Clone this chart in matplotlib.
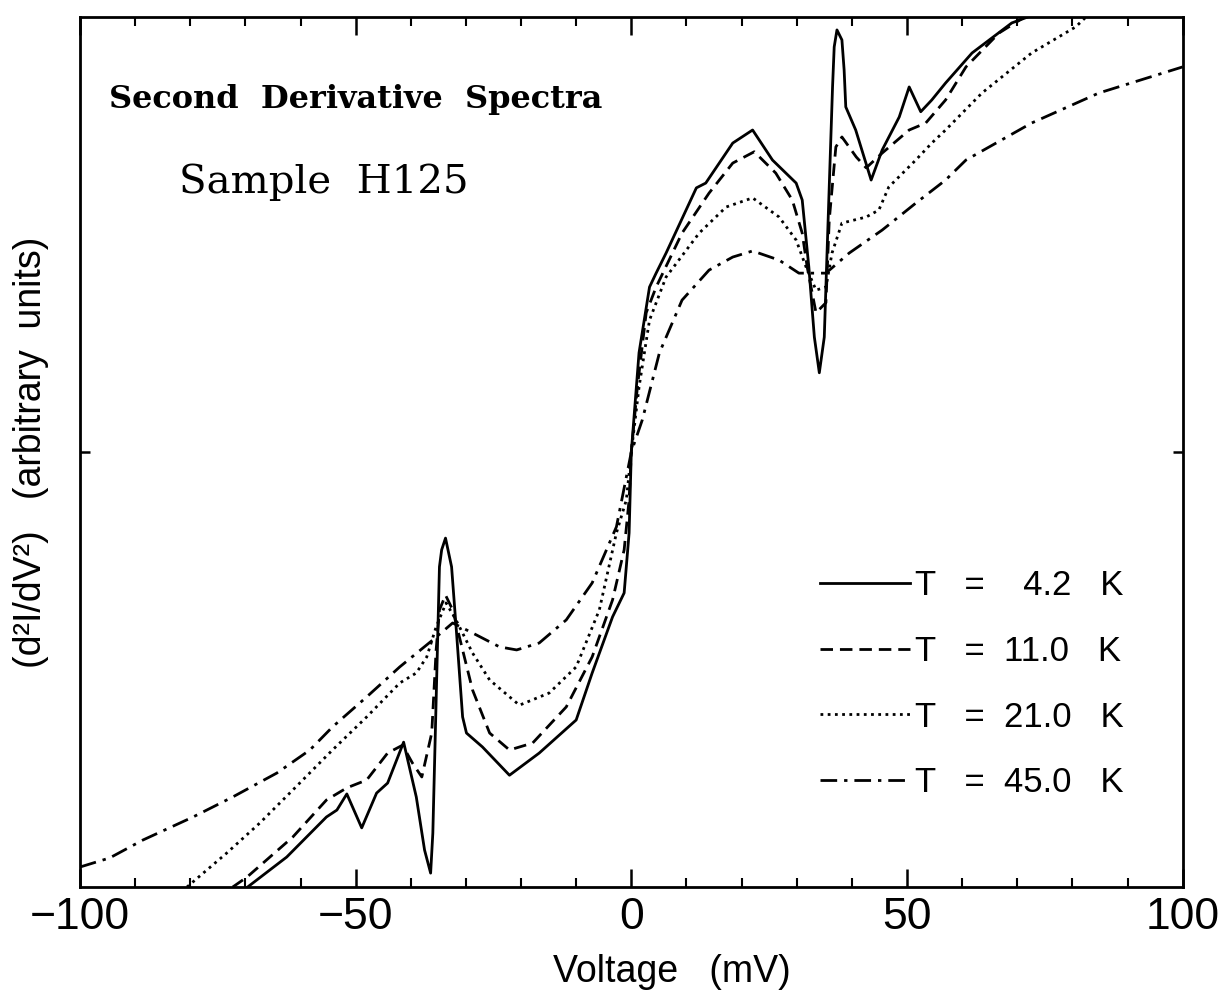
import numpy as np
import matplotlib
matplotlib.use('Agg')
import matplotlib.pyplot as plt
from matplotlib.ticker import MultipleLocator

# ---------------- data ----------------
# voltage in mV, signal in arbitrary units (-100 .. 100)
v_42 = [-69.6, -62.5, -55.3, -53.4, -51.6, -48.9, -46.2, -44.2, -41.3, -39.0,
        -37.5, -36.4, -36.0, -35.4, -34.8, -34.4, -33.7, -32.6, -31.7, -30.6,
        -29.9, -27.0, -22.1, -16.7, -10.0, -7.1, -3.4, -1.3,
        -0.4, 0.0, 1.4, 3.3, 4.5, 6.3, 11.8, 13.5, 18.4, 22.0,
        25.6, 29.9, 31.0, 32.2, 33.2, 34.1, 35.0, 35.5, 36.5, 36.8, 37.3, 38.2,
        38.6, 38.9, 40.7,
        43.5, 45.5, 48.6, 50.4, 52.5, 54.5, 57.0, 61.8, 69.0, 73.0]
s_42 = [-100.0, -93.1, -83.9, -82.3, -78.6, -86.4, -78.4, -76.1, -66.7, -79.3,
        -91.5, -96.8, -87.6, -57.0, -26.4, -22.5, -19.8, -26.4, -41.6, -60.9,
        -64.6, -67.8, -74.3, -69.2, -61.6, -50.8, -37.9, -32.4,
        -18.6, 0.0, 22.8, 37.9, 41.1, 45.7, 60.7, 61.8, 71.0, 74.0,
        67.1, 61.8, 57.9, 42.5, 26.4, 18.2, 26.4, 45.7, 83.9, 93.1, 97.0, 94.7,
        87.8, 79.3, 74.0,
        62.5, 69.4, 77.0, 83.9, 78.2, 80.9, 84.8, 91.7, 98.6, 100.5]

v_11 = [-72.3, -69.7, -61.4, -55.3, -51.6, -48.0, -44.2, -41.5, -39.7, -38.0,
        -36.2, -35.4, -34.8, -33.7, -32.4, -30.6, -28.8, -25.7, -22.1, -17.9,
        -11.8, -7.1, -3.4, -1.3, -0.4, 0.0, 1.1, 2.7, 4.5, 9.2,
        14.1, 18.4, 22.3, 26.2, 29.2, 31.0, 31.9, 33.5, 35.3, 35.9,
        37.1, 38.2, 40.8, 42.6, 45.5, 50.4, 53.4, 57.0, 60.7, 66.7, 72.0]
s_11 = [-100.0, -97.7, -88.5, -80.0, -77.2, -75.4, -69.2, -67.4, -71.5, -74.7,
        -64.6, -45.5, -36.3, -32.9, -36.3, -45.5, -54.7, -64.6, -68.5, -66.9,
        -58.6, -47.1, -34.0, -22.5, -11.0, 0.0, 14.9, 32.0, 37.9, 50.3,
        59.5, 66.4, 69.0, 64.1, 57.9, 50.3, 42.5, 32.0, 34.3, 53.3,
        70.1, 72.4, 67.8, 65.3, 68.7, 74.0, 75.6, 80.9, 88.5, 96.3, 100.5]

v_21 = [-80.6, -73.4, -67.4, -61.4, -54.2, -48.0, -42.0, -39.0, -37.1, -35.4,
        -33.6, -31.8, -28.8, -25.7, -20.3, -14.9, -10.0, -5.8, -2.7, -0.9,
        0.0, 1.4, 3.3, 6.3, 12.3, 17.2, 22.0, 26.8, 29.9, 31.7,
        33.5, 35.3, 36.4, 38.2, 42.6, 44.9, 46.7, 51.6, 54.5, 57.0,
        63.6, 72.6, 80.6, 82.5]
s_21 = [-100.0, -92.2, -85.3, -77.7, -68.5, -60.9, -53.1, -50.8, -47.1, -40.2,
        -34.7, -38.6, -46.2, -52.4, -58.2, -55.4, -49.4, -36.3, -18.6, -11.0,
        0.0, 14.9, 30.3, 40.2, 50.3, 56.3, 58.4, 54.0, 48.7, 42.5,
        37.2, 37.9, 45.7, 52.6, 54.0, 55.6, 60.9, 67.1, 71.0, 74.0,
        82.5, 91.7, 97.7, 100.0]

v_45 = [-100.0, -94.6, -88.6, -79.5, -72.3, -64.3, -58.3, -54.2, -48.0, -42.0,
        -36.0, -32.4, -28.8, -23.9, -20.8, -16.7, -11.8, -7.1, -2.7, 0.0,
        2.0, 5.1, 9.2, 14.1, 18.4, 22.0, 26.8, 30.4, 35.3, 39.5,
        45.5, 51.6, 57.0, 60.7, 72.6, 84.8, 100.0]
s_45 = [-95.4, -93.3, -89.2, -83.9, -79.3, -73.8, -68.5, -63.2, -56.3, -49.4,
        -43.2, -39.3, -41.6, -44.8, -45.5, -43.9, -38.6, -30.1, -17.2, 0.0,
        7.4, 22.8, 34.9, 41.8, 44.8, 46.2, 44.1, 41.1, 41.1, 45.7,
        51.0, 57.2, 62.5, 67.1, 75.6, 82.5, 88.5]

labels = ['T   =    4.2   K', 'T   =  11.0   K', 'T   =  21.0   K', 'T   =  45.0   K']

# ---------------- plot ----------------
sans = ['Liberation Sans', 'DejaVu Sans']
fig = plt.figure(figsize=(12.23, 9.93), dpi=100)
ax = fig.add_axes([0.0654, 0.1067, 0.9016, 0.8763])

lw = 2.0
ax.plot(v_42, s_42, color='black', lw=lw, linestyle='-', label=labels[0])
ax.plot(v_11, s_11, color='black', lw=lw, linestyle=(0, (4.5, 2.5)), label=labels[1])
ax.plot(v_21, s_21, color='black', lw=lw, linestyle=(0, (1, 1.6)), label=labels[2])
ax.plot(v_45, s_45, color='black', lw=lw, linestyle=(0, (6, 2.5, 1.2, 2.5)), label=labels[3])

ax.set_xlim(-100, 100)
ax.set_ylim(-100, 100)

ax.xaxis.set_major_locator(MultipleLocator(50))
ax.xaxis.set_minor_locator(MultipleLocator(10))
ax.set_yticks([0])
ax.set_yticklabels([])
ax.tick_params(axis='x', which='major', direction='in', length=13, width=1.8,
               top=True, bottom=True, labelsize=32, pad=7)
ax.tick_params(axis='x', which='minor', direction='in', length=6.5, width=1.5,
               top=True, bottom=True)
ax.tick_params(axis='y', which='major', direction='in', length=7, width=1.8,
               left=True, right=True)
for lab in ax.get_xticklabels():
    lab.set_family(sans)
for sp in ax.spines.values():
    sp.set_linewidth(2.0)

ax.set_xlabel('Voltage   (mV)', fontsize=27, family=sans)
ax.xaxis.set_label_coords(0.537, -0.077)
ax.set_ylabel('(d²I/dV²)   (arbitrary  units)', fontsize=27, family=sans)
ax.yaxis.set_label_coords(-0.028, 0.5)

ax.text(0.026, 0.905, 'Second  Derivative  Spectra', transform=ax.transAxes,
        fontsize=23, family='DejaVu Serif', fontweight='bold', va='center')
ax.text(0.09, 0.81, 'Sample  H125', transform=ax.transAxes,
        fontsize=29, family='DejaVu Serif', va='center')

leg = ax.legend(loc='center left', bbox_to_anchor=(0.655, 0.233), frameon=False,
                prop={'family': sans, 'size': 25}, handlelength=2.6,
                handletextpad=0.15, labelspacing=0.94, borderpad=0)

fig.savefig('out.png', dpi=100)
